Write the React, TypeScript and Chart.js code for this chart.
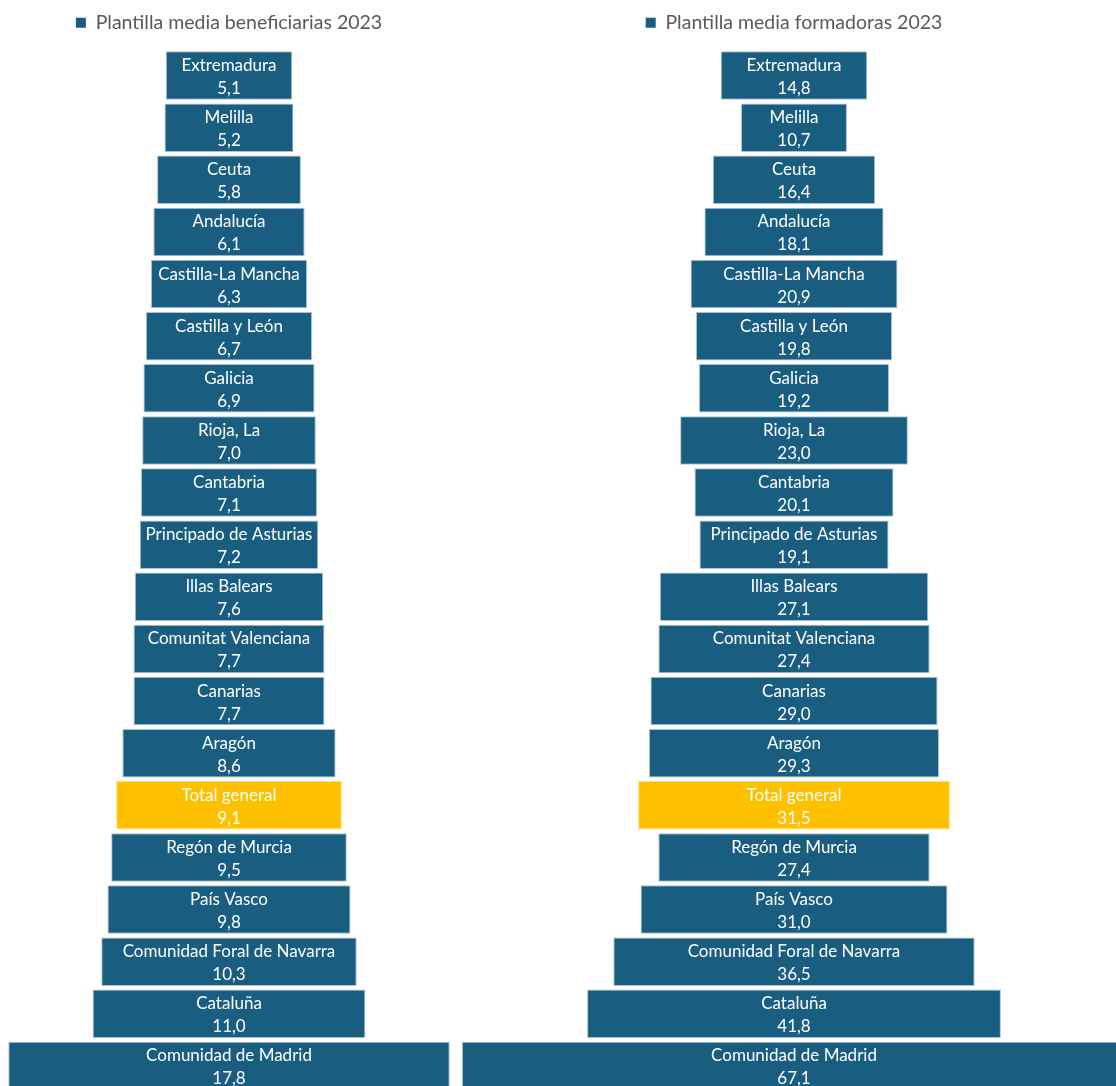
import React, { useEffect, useRef } from 'react';
import { Chart, registerables } from 'chart.js';

Chart.register(...registerables);

const categories = [
  'Extremadura', 'Melilla', 'Ceuta', 'Andalucía', 'Castilla-La Mancha', 'Castilla y León',
  'Galicia', 'Rioja, La', 'Cantabria', 'Principado de Asturias', 'Illas Balears',
  'Comunitat Valenciana', 'Canarias', 'Aragón', 'Total general', 'Regón de Murcia',
  'País Vasco', 'Comunidad Foral de Navarra', 'Cataluña', 'Comunidad de Madrid',
];

const beneficiarias = [5.1, 5.2, 5.8, 6.1, 6.3, 6.7, 6.9, 7.0, 7.1, 7.2, 7.6, 7.7, 7.7, 8.6, 9.1, 9.5, 9.8, 10.3, 11.0, 17.8];
const formadoras = [14.8, 10.7, 16.4, 18.1, 20.9, 19.8, 19.2, 23.0, 20.1, 19.1, 27.1, 27.4, 29.0, 29.3, 31.5, 27.4, 31.0, 36.5, 41.8, 67.1];

const legendLeft = 'Plantilla media beneficiarias 2023';
const legendRight = 'Plantilla media formadoras 2023';
const highlightCategory = 'Total general';

const BLUE = '#195e80';
const GOLD = '#ffc000';
const FONT = 'Lato, "Open Sans", sans-serif';

const fmt = (v: number) => v.toFixed(1).replace('.', ',');

function makeLabelPlugin(values: number[]) {
  return {
    id: 'barLabels',
    beforeLayout(chart: any) {
      const lg = chart.legend;
      if (lg && !lg.__patched) {
        const orig = lg.fit;
        lg.fit = function (this: any) {
          orig.call(this);
          this.height += 7;
        };
        lg.__patched = true;
      }
    },
    afterDatasetsDraw(chart: any) {
      const ctx = chart.ctx;
      const meta = chart.getDatasetMeta(0);
      ctx.save();
      ctx.fillStyle = '#ffffff';
      ctx.textAlign = 'center';
      ctx.textBaseline = 'middle';
      ctx.font = `17px ${FONT}`;
      meta.data.forEach((el: any, i: number) => {
        const cx = (el.x + el.base) / 2;
        const cy = el.y;
        ctx.fillText(categories[i], cx, cy - 10);
        ctx.fillText(fmt(values[i]), cx, cy + 13);
      });
      ctx.restore();
    },
  };
}

type FunnelProps = {
  values: number[];
  legend: string;
  left: number;
  width: number;
  pxPerUnit: number;
};

function Funnel({ values, legend, left, width, pxPerUnit }: FunnelProps) {
  const ref = useRef<HTMLCanvasElement | null>(null);
  useEffect(() => {
    if (!ref.current) return;
    const half = width / 2 / pxPerUnit;
    const chart = new Chart(ref.current, {
      type: 'bar',
      data: {
        labels: categories,
        datasets: [
          {
            label: legend,
            data: values.map((v) => [-v / 2, v / 2]) as any,
            backgroundColor: categories.map((c) => (c === highlightCategory ? GOLD : BLUE)),
            borderColor: categories.map((c) => (c === highlightCategory ? '#ffe08a' : '#a9c3d3')),
            borderWidth: 1,
            borderSkipped: false,
            barPercentage: 0.93,
            categoryPercentage: 1,
          },
        ],
      },
      options: {
        indexAxis: 'y',
        animation: false,
        responsive: false,
        maintainAspectRatio: false,
        layout: { padding: { top: 3, bottom: 8, left: 0, right: 0 } },
        scales: {
          x: { display: false, min: -half, max: half },
          y: { display: false },
        },
        plugins: {
          legend: {
            display: true,
            position: 'top',
            labels: {
              color: '#595959',
              font: { family: FONT, size: 19.5 },
              boxWidth: 10,
              boxHeight: 10,
              padding: 10,
              generateLabels: () => [
                {
                  text: legend,
                  fillStyle: BLUE,
                  strokeStyle: BLUE,
                  lineWidth: 0,
                  hidden: false,
                  datasetIndex: 0,
                  fontColor: '#595959',
                } as any,
              ],
            },
          },
          tooltip: { enabled: false },
        },
      },
      plugins: [makeLabelPlugin(values)],
    });
    return () => chart.destroy();
  }, [values, legend, width, pxPerUnit]);

  return (
    <canvas
      ref={ref}
      width={width}
      height={1100}
      style={{ position: 'absolute', left, top: 0, width, height: 1100 }}
    />
  );
}

export default function App() {
  return (
    <div
      style={{
        position: 'fixed',
        left: 0,
        top: 0,
        width: 1116,
        height: 1086,
        overflow: 'hidden',
        background: '#ffffff',
      }}
    >
      <Funnel values={beneficiarias} legend={legendLeft} left={0} width={458} pxPerUnit={24.8} />
      <Funnel values={formadoras} legend={legendRight} left={458} width={672} pxPerUnit={9.9} />
    </div>
  );
}
